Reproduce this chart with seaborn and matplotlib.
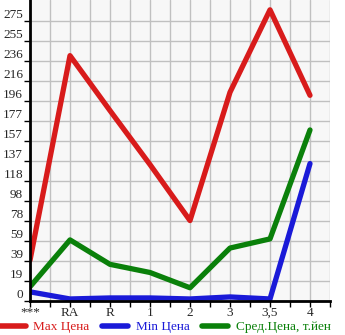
import matplotlib
matplotlib.use("Agg")
import matplotlib.pyplot as plt
import seaborn as sns
import pandas as pd
import numpy as np
from matplotlib.lines import Line2D

categories = ["***", "RA", "R", "1", "2", "3", "3,5", "4"]
max_price = [40, 241, 187, 134, 79, 205, 286, 202]
min_price = [9, 2, 3, 3, 2, 4, 2, 135]
avg_price = [14, 60, 36, 28, 13, 52, 61, 168]
ytick_labels = ["0", "19", "39", "59", "78", "98", "118", "137", "157", "177",
                "196", "216", "236", "255", "275"]
series_names = ["Max Цена", "Min Цена", "Сред.Цена, т.йен"]
colors = ["#d81b1b", "#1a1ad8", "#0a800a"]

sns.set_theme(style="white")
plt.rcParams['font.family'] = ['Liberation Serif', 'DejaVu Serif']

df = pd.DataFrame({
    "x": list(range(len(categories))) * 3,
    "value": max_price + min_price + avg_price,
    "series": [series_names[0]] * 8 + [series_names[1]] * 8 + [series_names[2]] * 8,
})

fig = plt.figure(figsize=(3.45, 3.35), dpi=100)
ax = fig.add_axes([30/345, 1 - 301/335, 300/345, 301/335])
ax.set_facecolor("#f7f7f7")

sns.lineplot(data=df, x="x", y="value", hue="series", palette=colors,
             linewidth=3.8, ax=ax, legend=False, solid_capstyle="round",
             solid_joinstyle="round")

step = 275 / 14
ax.set_xlim(0, 7.5)
ax.set_ylim(0, step * 15.05)
xt_labels = []
for c in categories:
    xt_labels += [c, ""]
ax.set_xticks(np.arange(0, 7.51, 0.5))
ax.set_xticklabels(xt_labels[:16])
yt = [i * step for i in range(15)]
ax.set_yticks(yt)
ax.set_yticklabels(ytick_labels)
for lab in ax.get_yticklabels():
    lab.set_verticalalignment("bottom")
ax.grid(True, color="#c0c0c0", linewidth=1)
ax.tick_params(axis="both", length=4, width=1, color="black", labelsize=9.5,
               pad=1, direction="out", left=True, bottom=True)
ax.tick_params(axis="x", pad=0)
ax.set_xlabel("")
ax.set_ylabel("")
for s in ["top", "right"]:
    ax.spines[s].set_visible(False)
for s in ["left", "bottom"]:
    ax.spines[s].set_color("black")
    ax.spines[s].set_linewidth(2)

handles = [Line2D([0], [0], color=c, linewidth=4, solid_capstyle="round") for c in colors]
leg = fig.legend(handles, series_names, loc="center", bbox_to_anchor=(165/345, 8/335),
                 ncol=3, frameon=False, fontsize=9.5, handlelength=2.0,
                 handletextpad=0.6, columnspacing=0.9, borderaxespad=0,
                 borderpad=0)
for t, c in zip(leg.get_texts(), colors):
    t.set_color(c)

fig.savefig("out.png", dpi=100)
